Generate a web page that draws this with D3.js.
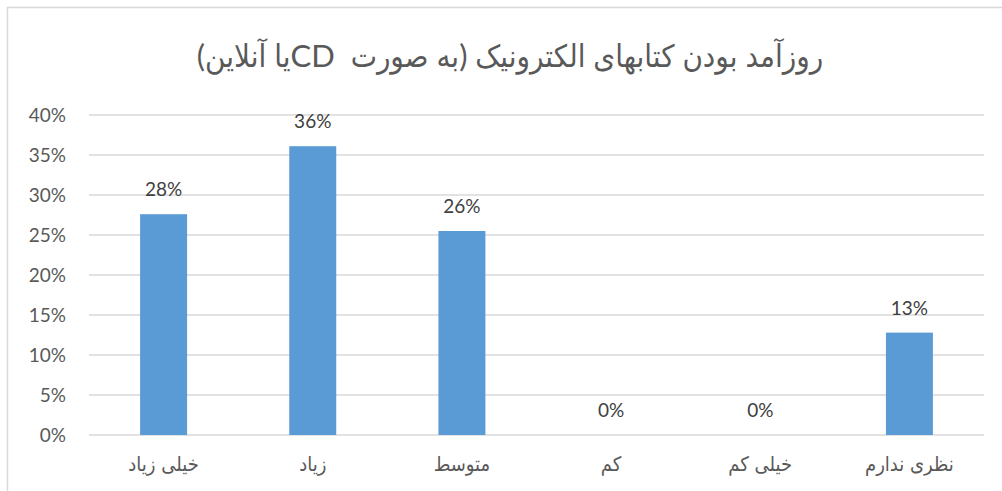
<!DOCTYPE html>
<html>
<head>
<meta charset="utf-8">
<script src="https://cdn.jsdelivr.net/npm/d3@7"></script>
<style>
  html, body { margin: 0; padding: 0; background: #fff; }
  #container { width: 1002px; height: 491px; }
</style>
</head>
<body>
<div id="container"></div>
<script>
const titleText = "روزآمد بودن کتابهای الکترونیک (به صورت  CDیا آنلاین)";
const categories = ["خیلی زیاد", "زیاد", "متوسط", "کم", "خیلی کم", "نظری ندارم"];
const values = [0.276, 0.361, 0.255, 0, 0, 0.128];
const valueLabels = ["28%", "36%", "26%", "0%", "0%", "13%"];
const yTicks = [0, 0.05, 0.10, 0.15, 0.20, 0.25, 0.30, 0.35, 0.40];

const W = 1002, H = 491;
const plot = {left: 89, right: 984, top: 115, bottom: 435};

const svg = d3.select("#container")
  .append("svg")
  .attr("width", W)
  .attr("height", H);

// chart frame
svg.append("path")
  .attr("d", `M${W + 5},7.5 H7.5 V${H + 5}`)
  .attr("fill", "none")
  .attr("stroke", "#d9d9d9")
  .attr("stroke-width", 1.5);

const x = d3.scaleBand()
  .domain(categories)
  .range([plot.left, plot.right])
  .paddingInner(0.685)
  .paddingOuter(0.3425);

const y = d3.scaleLinear()
  .domain([0, 0.4])
  .range([plot.bottom, plot.top]);

// gridlines
svg.append("g")
  .selectAll("line")
  .data(yTicks)
  .enter()
  .append("line")
  .attr("x1", plot.left)
  .attr("x2", plot.right)
  .attr("y1", d => y(d))
  .attr("y2", d => y(d))
  .attr("stroke", "#d9d9d9")
  .attr("stroke-width", 1.5);

// y tick labels
svg.append("g")
  .selectAll("text")
  .data(yTicks)
  .enter()
  .append("text")
  .attr("x", 66)
  .attr("y", d => y(d) + 7)
  .attr("text-anchor", "end")
  .attr("font-family", "Lato, 'Open Sans', sans-serif")
  .attr("font-size", "19px")
  .attr("fill", "#595959")
  .text(d => d3.format(".0%")(d));

// bars
svg.append("g")
  .selectAll("rect")
  .data(values)
  .enter()
  .append("rect")
  .attr("x", (d, i) => x(categories[i]))
  .attr("width", x.bandwidth())
  .attr("y", d => y(d))
  .attr("height", d => y(0) - y(d))
  .attr("fill", "#5b9bd5");

// value labels
svg.append("g")
  .selectAll("text")
  .data(values)
  .enter()
  .append("text")
  .attr("x", (d, i) => x(categories[i]) + x.bandwidth() / 2)
  .attr("y", d => y(d) - 18)
  .attr("text-anchor", "middle")
  .attr("font-family", "Lato, 'Open Sans', sans-serif")
  .attr("font-size", "19px")
  .attr("fill", "#404040")
  .text((d, i) => valueLabels[i]);

// category labels
svg.append("g")
  .selectAll("text")
  .data(categories)
  .enter()
  .append("text")
  .attr("x", d => x(d) + x.bandwidth() / 2)
  .attr("y", 471)
  .attr("text-anchor", "middle")
  .attr("direction", "rtl")
  .attr("font-family", "'DejaVu Sans Condensed', 'DejaVu Sans', sans-serif")
  .attr("font-size", "20px")
  .attr("fill", "#595959")
  .text(d => d);

// title
svg.append("text")
  .attr("x", 510)
  .attr("y", 67)
  .attr("text-anchor", "middle")
  .attr("direction", "rtl")
  .style("white-space", "pre")
  .attr("font-family", "Lato, 'DejaVu Sans Condensed', 'DejaVu Sans', sans-serif")
  .attr("font-size", "31px")
  .attr("fill", "#595959")
  .text(titleText);
</script>
</body>
</html>
